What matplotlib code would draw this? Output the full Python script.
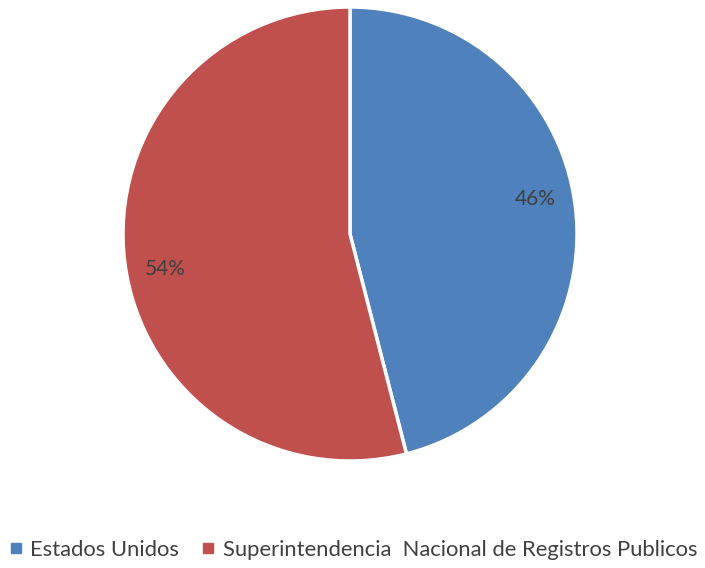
import matplotlib
matplotlib.use("Agg")
import matplotlib.pyplot as plt
import numpy as np
from matplotlib.lines import Line2D

plt.rcParams['font.family'] = ['Lato', 'DejaVu Sans']

labels = ['Estados Unidos', 'Superintendencia  Nacional de Registros Publicos']
values = [46, 54]
colors = ['#4F81BD', '#C0504D']

fig = plt.figure(figsize=(7.05, 5.68), dpi=100)
ax = fig.add_axes([(350 - 227) / 705, (568 - 461) / 568, 454 / 705, 454 / 568])

wedges, texts, autotexts = ax.pie(
    values, colors=colors, startangle=90, counterclock=False,
    autopct='%1.0f%%', pctdistance=0.84, radius=1,
    wedgeprops=dict(edgecolor='white', linewidth=2.5),
    textprops=dict(color='#404040', fontsize=15))
# labels sit a little counterclockwise of the wedge middle
for w, t in zip(wedges, autotexts):
    ang = np.deg2rad((w.theta1 + w.theta2) / 2 + 3.5)
    t.set_position((0.83 * np.cos(ang), 0.83 * np.sin(ang)))
ax.set_xlim(-1, 1)
ax.set_ylim(-1, 1)
ax.set_aspect('equal')

handles = [Line2D([], [], marker='s', linestyle='', markersize=7,
                  markerfacecolor=c, markeredgecolor=c) for c in colors]
fig.legend(handles, labels, loc='center', bbox_to_anchor=(0.5, 1 - 550 / 568),
           ncol=2, frameon=False, fontsize=15.8, handletextpad=0.3,
           columnspacing=1.0, handlelength=0.7, labelcolor='#404040')

fig.savefig('out.png', dpi=100)
